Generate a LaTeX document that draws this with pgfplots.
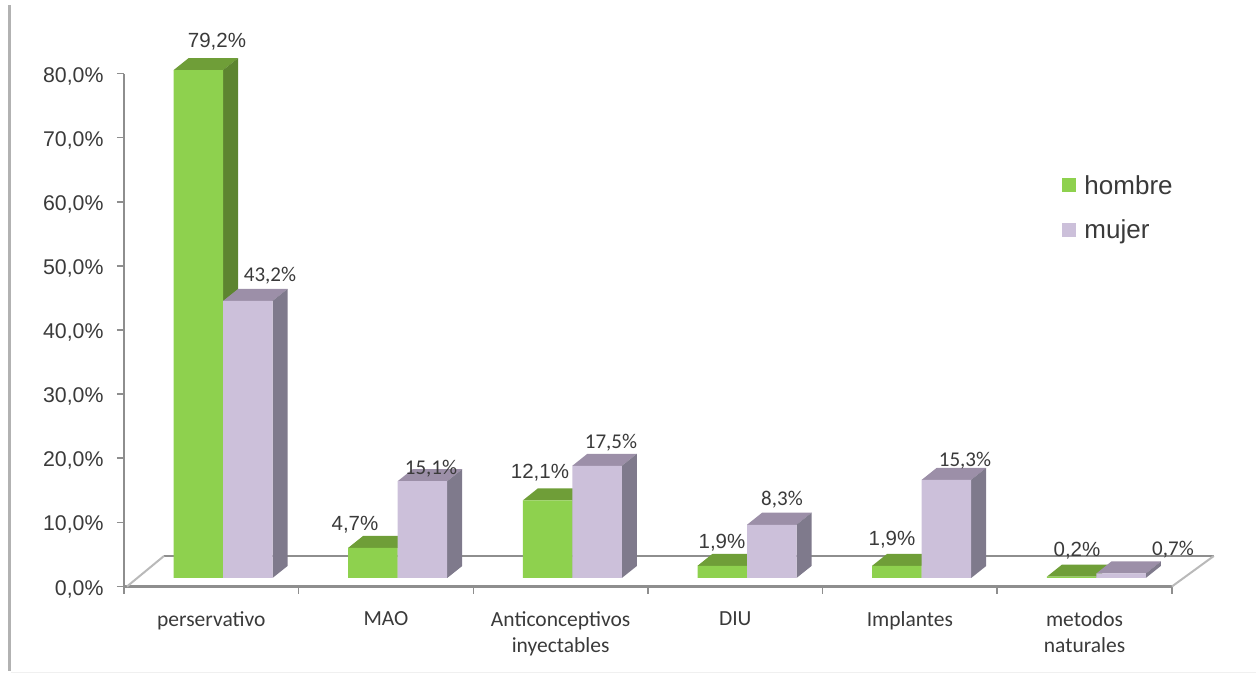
\documentclass[border=0pt]{standalone}
\usepackage{fontspec}
\setmainfont{Liberation Sans}
\newfontfamily\carlito{Carlito}
\usepackage{pgfplots}
\pgfplotsset{compat=1.18}
\usepackage{pgfplotstable}

\definecolor{hfront}{HTML}{8ED14E}
\definecolor{htop}{HTML}{6F9E38}
\definecolor{hside}{HTML}{5D8530}
\definecolor{mfront}{HTML}{CCC0DA}
\definecolor{mtop}{HTML}{9C8FA8}
\definecolor{mside}{HTML}{7F7A8C}
\definecolor{axgray}{HTML}{8E8E8E}
\definecolor{txt}{HTML}{3A3A3A}

\pgfplotstableread{
x hombre mujer
0 79.2 43.2
1 4.7 15.1
2 12.1 17.5
3 1.9 8.3
4 1.9 15.3
5 0.2 0.7
}\datos

% top and side faces of one bar: x, value, bar shift in px, top colour, side colour
\newcommand{\caras}[5]{%
  \pgfmathsetmacro{\xl}{#1+(#3-24.75)/174.67}%
  \pgfmathsetmacro{\xr}{#1+(#3+24.75)/174.67}%
  \pgfmathsetmacro{\xlb}{\xl+0.0859}%
  \pgfmathsetmacro{\xrb}{\xr+0.0859}%
  \pgfmathsetmacro{\yb}{#2+1.872}%
  \addplot[fill=#4,draw=none,forget plot] coordinates {(\xl,#2) (\xlb,\yb) (\xrb,\yb) (\xr,#2)};
  \addplot[fill=#5,draw=none,forget plot] coordinates {(\xr,#2) (\xrb,\yb) (\xrb,1.872) (\xr,0)};
}

\begin{document}
\begin{tikzpicture}[x=1pt,y=1pt]
\useasboundingbox (0,0) rectangle (1256,673);
\begin{axis}[
    at={(124pt,86.5pt)},
    anchor=south west,
    scale only axis,
    width=1048pt,
    height=513pt,
    xmin=-0.5, xmax=5.5,
    ymin=-1.33, ymax=78.67,
    clip=false,
    axis lines*=left,
    axis line style={axgray,line width=2.4pt,-},
    tick align=outside,
    tick style={axgray,line width=1.6pt},
    major tick length=7pt,
    minor tick length=7pt,
    ytick={-1.33,8.67,18.67,28.67,38.67,48.67,58.67,68.67,78.67},
    yticklabels={{0,0\%},{10,0\%},{20,0\%},{30,0\%},{40,0\%},{50,0\%},{60,0\%},{70,0\%},{80,0\%}},
    yticklabel style={font=\fontsize{21.3}{24}\selectfont,text=txt,xshift=-10pt,yshift=-2.5pt},
    xtick={0,1,2,3,4,5},
    minor xtick={-0.5,0.5,1.5,2.5,3.5,4.5,5.5},
    x tick style={draw=none},
    minor x tick style={draw=axgray,line width=1.6pt},
    xticklabels={perservativo,MAO,{Anticonceptivos\\inyectables},DIU,Implantes,{metodos\\naturales}},
    xticklabel style={font=\carlito\fontsize{21.5}{26}\selectfont,text=txt,align=center,anchor=north,yshift=-15pt},
    legend style={at={(rel axis cs:0.8925,0.81)},anchor=north west,draw=none,fill=none,
      font=\fontsize{26}{28}\selectfont,text=txt,row sep=20.5pt,
      /tikz/every odd column/.append style={column sep=6pt}},
    legend cell align=left,
]
% floor of the chart
\addplot[axgray,line width=2.2pt,forget plot] coordinates {(-0.271,3.43) (5.74,3.43)};
\addplot[gray!55,line width=2pt,forget plot] coordinates {(-0.483,-1.33) (-0.271,3.43)};
\addplot[gray!55,line width=2pt,forget plot] coordinates {(5.5,-1.33) (5.74,3.43)};

\caras{0}{79.2}{-13}{htop}{hside}
\caras{1}{4.7}{-13}{htop}{hside}
\caras{2}{12.1}{-13}{htop}{hside}
\caras{3}{1.9}{-13}{htop}{hside}
\caras{4}{1.9}{-13}{htop}{hside}
\caras{5}{0.2}{-13}{htop}{hside}
\addplot[ybar,bar width=49.5pt,bar shift=-13pt,fill=hfront,draw=none,
  legend image code/.code={\fill[hfront] (0pt,-7pt) rectangle (14pt,7pt);}]
  table[x=x,y=hombre] {\datos};
\addlegendentry{hombre}

\caras{0}{43.2}{36.5}{mtop}{mside}
\caras{1}{15.1}{36.5}{mtop}{mside}
\caras{2}{17.5}{36.5}{mtop}{mside}
\caras{3}{8.3}{36.5}{mtop}{mside}
\caras{4}{15.3}{36.5}{mtop}{mside}
\caras{5}{0.7}{36.5}{mtop}{mside}
\addplot[ybar,bar width=49.5pt,bar shift=36.5pt,fill=mfront,draw=none,
  legend image code/.code={\fill[mfront] (0pt,-7pt) rectangle (14pt,7pt);}]
  table[x=x,y=mujer] {\datos};
\addlegendentry{mujer}
\end{axis}

% data labels, placed by hand as in the original
\begin{scope}[yshift=-2pt,every node/.style={text=txt,inner sep=0pt}]
\def\ar{\fontsize{20.5}{24}\selectfont}
\def\ca{\carlito\fontsize{21}{24}\selectfont}
\node[font=\ar] at (217,673-40) {79,2\%};
\node[font=\ca] at (270,673-274) {43,2\%};
\node[font=\ar] at (355,673-523) {4,7\%};
\node[font=\ca] at (431,673-467) {15,1\%};
\node[font=\ar] at (540,673-471) {12,1\%};
\node[font=\ca] at (611,673-441) {17,5\%};
\node[font=\ar] at (722,673-541) {1,9\%};
\node[font=\ca] at (782,673-498) {8,3\%};
\node[font=\ar] at (892,673-538) {1,9\%};
\node[font=\ca] at (965,673-459) {15,3\%};
\node[font=\ar] at (1077,673-549) {0,2\%};
\node[font=\ca] at (1173,673-548) {0,7\%};
\end{scope}

% frame lines of the slide
\fill[gray!60] (7.5,2) rectangle (10.5,668);
\fill[gray!12] (10.5,0) rectangle (1256,1.5);
\end{tikzpicture}
\end{document}
